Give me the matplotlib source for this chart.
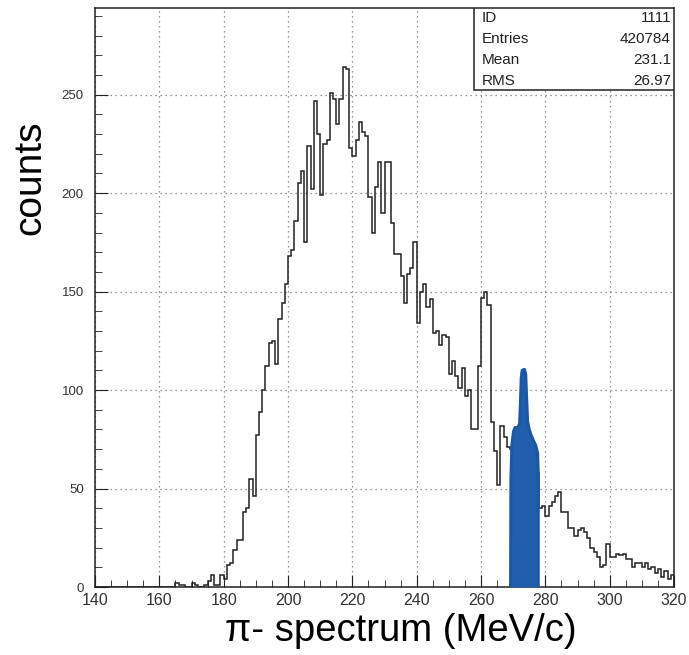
import numpy as np
import matplotlib
matplotlib.use("Agg")
import matplotlib.pyplot as plt
from matplotlib.patches import Rectangle
from matplotlib.ticker import MultipleLocator

plt.rcParams["font.family"] = ["Liberation Sans", "DejaVu Sans"]

# 1 MeV/c bins from 140 to 320
bin_edges = np.arange(140, 321, 1)
counts_140 = [0, 0, 0, 0, 0, 0, 0, 0, 0, 0, 0, 0, 0, 0, 0, 0, 0, 0, 0, 0,
              0, 0, 0, 0, 0, 2, 1, 1, 0, 0, 2, 1, 0, 0, 1, 3, 6, 1, 1, 6]
counts_180 = [4, 11, 12, 19, 24, 24, 38, 40, 55, 46, 77, 89, 100, 112, 124, 125, 113, 136, 144, 154,
              168, 171, 186, 205, 211, 175, 224, 202, 247, 230, 199, 225, 227, 251, 248, 235, 248, 264, 263, 223]
counts_220 = [219, 227, 236, 231, 229, 198, 180, 203, 216, 190, 216, 216, 185, 169, 169, 158, 144, 159, 162, 175,
              134, 150, 154, 142, 146, 129, 130, 123, 128, 127, 108, 115, 107, 101, 111, 97, 100, 80, 80, 112]
counts_260 = [147, 150, 143, 84, 69, 52, 82, 76, 71, 70, 68, 66, 64, 62, 60, 58, 55, 58, 40, 41,
              36, 41, 43, 46, 48, 38, 38, 30, 30, 26, 29, 30, 28, 25, 20, 18, 15, 10, 11, 22]
counts_300 = [15, 15, 17, 16, 17, 14, 14, 10, 12, 12, 10, 12, 9, 10, 7, 9, 5, 8, 4, 6]
counts = counts_140 + counts_180 + counts_220 + counts_260 + counts_300

# highlighted (blue) region outline
blue_p = [269.2, 269.3, 269.6, 270.1, 270.6, 271.5, 272.0, 272.3, 272.5, 272.8, 273.5,
          273.9, 274.2, 274.5, 275.0, 275.6, 276.4, 277.0, 277.6, 277.8, 277.8]
blue_n = [0, 55, 72, 79, 81, 81, 83, 95, 106, 110, 110.5,
          108, 95, 84, 80, 77, 74, 72, 68, 58, 0]

stats_names = ["ID", "Entries", "Mean", "RMS"]
stats_values = ["1111", "420784", "231.1", "26.97"]

fig = plt.figure(figsize=(6.89, 6.55), dpi=100)
ax = fig.add_axes([95 / 689, 68 / 655, 579 / 689, 579 / 655])

ax.stairs(counts, bin_edges, color="#222222", lw=1.1, zorder=3)
ax.fill_between(blue_p, 0, blue_n, color="#1f5fae", lw=0, zorder=4)
ax.plot(blue_p, blue_n, color="#1d58a3", lw=2.2, solid_capstyle="round", zorder=4)

ax.set_xlim(140, 320)
ax.set_ylim(0, 294)
ax.xaxis.set_major_locator(MultipleLocator(20))
ax.xaxis.set_minor_locator(MultipleLocator(5))
ax.yaxis.set_major_locator(MultipleLocator(50))
ax.yaxis.set_minor_locator(MultipleLocator(10))
ax.tick_params(which="both", direction="in", top=False, right=False, colors="#222222")
ax.tick_params(axis="x", which="major", length=9, labelsize=11.5, pad=4, labelcolor="#333333")
ax.tick_params(axis="x", which="minor", length=5)
ax.tick_params(axis="y", which="major", length=9, labelsize=9.5, pad=8, labelcolor="#333333")
ax.tick_params(axis="y", which="minor", length=5)
ax.grid(which="major", color="#777777", ls=(0, (1, 3)), lw=0.9)
for s in ax.spines.values():
    s.set_color("#222222")
    s.set_linewidth(1.1)

# stats box
x0, y0 = (474 - 95) / 579, (587 - 90) / 579
ax.add_patch(Rectangle((x0, y0), 1 - x0, 1 - y0, transform=ax.transAxes,
                       facecolor="white", edgecolor="#222222", lw=1.1, zorder=6))
for i, (n, v) in enumerate(zip(stats_names, stats_values)):
    yy = (587 - (18 + 21 * i)) / 579
    ax.text((482 - 95) / 579, yy, n, transform=ax.transAxes, fontsize=11,
            ha="left", va="center", zorder=7, color="#222222")
    ax.text((671 - 95) / 579, yy, v, transform=ax.transAxes, fontsize=11,
            ha="right", va="center", zorder=7, color="#222222")

fig.text(401 / 689, 1 - 631 / 655, "π- spectrum (MeV/c)", fontsize=27.5,
         ha="center", va="center")
fig.text(30 / 689, 1 - 178 / 655, "counts", fontsize=28, rotation=90,
         ha="center", va="center")

fig.savefig("out.png", dpi=100)
